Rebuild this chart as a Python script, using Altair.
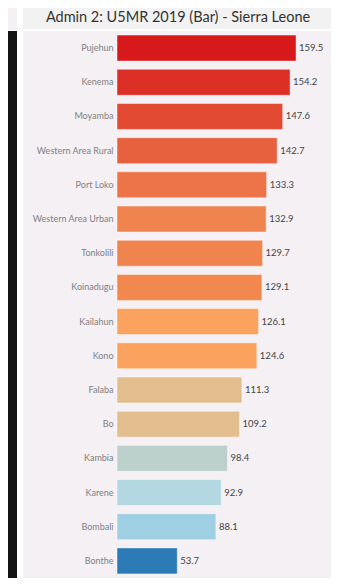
import altair as alt
import pandas as pd

districts = ["Pujehun", "Kenema", "Moyamba", "Western Area Rural", "Port Loko",
             "Western Area Urban", "Tonkolili", "Koinadugu", "Kailahun", "Kono",
             "Falaba", "Bo", "Kambia", "Karene", "Bombali", "Bonthe"]
u5mr = [159.5, 154.2, 147.6, 142.7, 133.3, 132.9, 129.7, 129.1, 126.1, 124.6,
        111.3, 109.2, 98.4, 92.9, 88.1, 53.7]
bar_colors = ["#d7191c", "#dc3027", "#e34a33", "#e8613e", "#ec7448", "#f0844f",
              "#f0844f", "#f3884f", "#fba35e", "#fba35e", "#e2be8f", "#e2be8f",
              "#bcd0cc", "#b3d8e2", "#9fcfe3", "#2c7bb6"]
title_text = "Admin 2: U5MR 2019 (Bar) - Sierra Leone"

df = pd.DataFrame({"District": districts, "U5MR": u5mr})

FONT = "Lato"
W, H = 208, 547

y_enc = alt.Y("District:N", sort=districts, title=None,
              scale=alt.Scale(paddingInner=0.24, paddingOuter=0.12),
              axis=alt.Axis(domain=False, ticks=False, labelColor="#808080",
                            labelFontSize=9, labelFont=FONT, labelPadding=4,
                            labelLimit=200, zindex=2))
x_enc = alt.X("U5MR:Q", scale=alt.Scale(domain=[0, 185.3], nice=False, zero=True),
              axis=None)

deco = pd.DataFrame({"k": [0]})
panel = alt.Chart(deco).mark_rect(color="#f5f0f4").encode(
    x=alt.value(-94), x2=alt.value(216), y=alt.value(0), y2=alt.value(H + 10))
band = alt.Chart(deco).mark_rect(color="#f2f2f2").encode(
    x=alt.value(-94), x2=alt.value(216), y=alt.value(-30), y2=alt.value(-2))
corner = alt.Chart(deco).mark_rect(color="#f5f0f4").encode(
    x=alt.value(-110), x2=alt.value(-100), y=alt.value(-30), y2=alt.value(-1))
dark = alt.Chart(deco).mark_rect(color="#141414").encode(
    x=alt.value(-110), x2=alt.value(-100), y=alt.value(0), y2=alt.value(H + 10))
title = alt.Chart(pd.DataFrame({"t": [title_text]})).mark_text(
    font=FONT, fontSize=14.5, color="#333333", align="center", baseline="alphabetic"
).encode(text="t:N", x=alt.value(61), y=alt.value(-9))

bars = alt.Chart(df).mark_bar(stroke="#ffffff", strokeOpacity=0.45, strokeWidth=1).encode(
    y=y_enc, x=x_enc,
    color=alt.Color("District:N", scale=alt.Scale(domain=districts, range=bar_colors),
                    legend=None))
labels = alt.Chart(df).mark_text(align="left", baseline="middle", dx=3,
                                 font=FONT, fontSize=9.5, color="#444444").encode(
    y=alt.Y("District:N", sort=districts), x="U5MR:Q",
    text=alt.Text("U5MR:Q", format=".1f"))

chart = alt.layer(panel, band, corner, dark, title, bars, labels).properties(
    width=W, height=H,
    padding={"left": 109, "top": 23, "right": 6, "bottom": 0},
    autosize=alt.AutoSizeParams(type="none"),
    background="#ffffff"
).configure_view(stroke=None)

chart.save("out.html", embed_options={"renderer": "svg", "actions": False})
